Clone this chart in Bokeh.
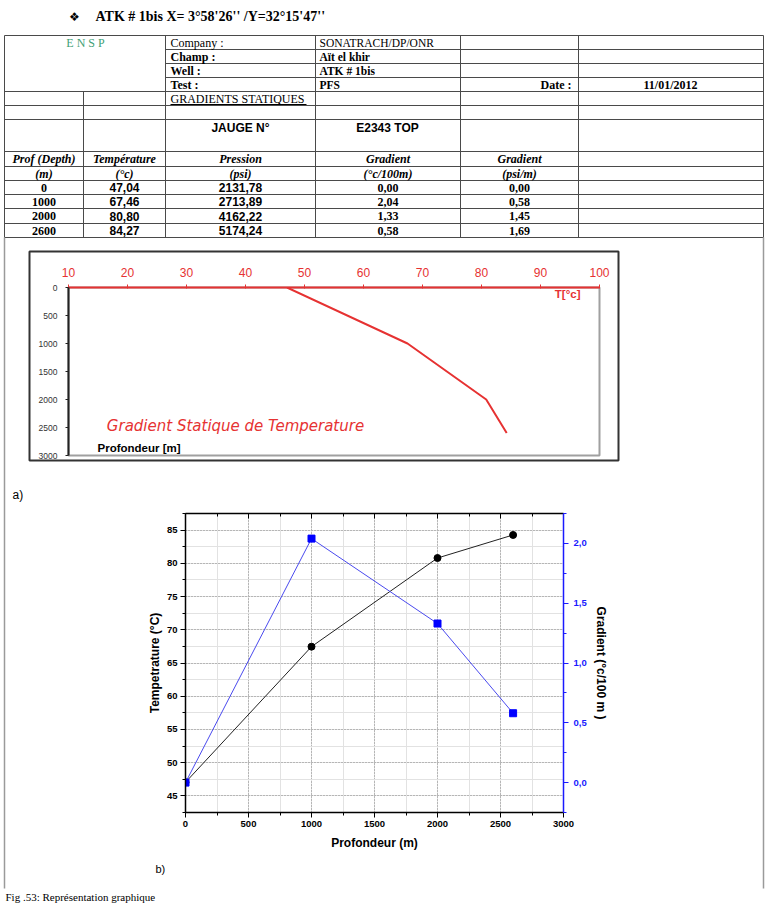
from bokeh.plotting import figure
from bokeh.models import (Range1d, LinearAxis, SingleIntervalTicker, FixedTicker,
                          CustomJSTickFormatter, GridBox, Column)
from bokeh.core.properties import value
from bokeh.embed import file_html
from bokeh.resources import INLINE

# ---------------- data ----------------
depth_m = [0, 1000, 2000, 2600]
temperature_c = [47.04, 67.46, 80.80, 84.27]
pression_psi = [2131.78, 2713.89, 4162.22, 5174.24]
gradient_c100m = [0.00, 2.04, 1.33, 0.58]
gradient_psim = [0.00, 0.58, 1.45, 1.69]

temp_ticks_a = [10, 20, 30, 40, 50, 60, 70, 80, 90, 100]
depth_ticks_a = [0, 500, 1000, 1500, 2000, 2500, 3000]

info_labels = ["Company :", "Champ :", "Well :", "Test :"]
info_values = ["SONATRACH/DP/ONR", "Aït el khir", "ATK # 1bis", "PFS"]
col_titles = ["Prof (Depth)", "Température", "Pression", "Gradient", "Gradient"]
col_units = ["(m)", "(°c)", "(psi)", "(°c/100m)", "(psi/m)"]
heading = "ATK # 1bis X= 3°58'26'' /Y=32°15'47''"


def fr(v):
    return f"{v:.2f}".replace(".", ",")


# ---------------- page geometry (reference pixel space, 1:1) ----------------
W, H = 767, 904
XL, XR, YT, YB = 0, 767, 0, 904


def sx(rx):
    return (rx - XL) * W / (XR - XL)


def sy(ry):
    return (ry - YT) * H / (YB - YT)


SERIF = "Liberation Serif"
SANS = "Liberation Sans"

bg = figure(width=W, height=H, x_range=Range1d(XL, XR), y_range=Range1d(YB, YT),
            x_axis_type=None, y_axis_type=None, output_backend="svg",
            toolbar_location=None, min_border=0, outline_line_color=None,
            background_fill_color="white", border_fill_color="white")
bg.xgrid.visible = False
bg.ygrid.visible = False


def T(x, y, s, size=12, font=SERIF, style="normal", color="#000000", align="left"):
    bg.text(x=[x], y=[y], text=[s], text_font=value(font), text_font_size=f"{size}px",
            text_font_style=style, text_color=color, text_align=align,
            text_baseline="middle")


# heading
T(74, 16, "\u2756", size=12, font="DejaVu Sans", align="center")
T(95, 16, heading, size=14, style="bold")

# table grid
LC = "#4a4a4a"
cols = [4, 83, 165, 315, 460, 578, 763]
rows = [35, 49, 63, 77, 91, 105, 119, 151, 166, 180, 194, 208, 223, 237]
hx0, hx1, hy = [], [], []
for r in rows:
    hy.append(r)
    hx0.append(165 if r in (49, 63, 77) else 4)
    hx1.append(763)
bg.segment(x0=hx0, y0=hy, x1=hx1, y1=hy, line_color=LC, line_width=1)
vx, vy0, vy1 = [], [], []
for c in cols:
    vx.append(c)
    vy0.append(91 if c == 83 else 35)
    vy1.append(237)
bg.segment(x0=vx, y0=vy0, x1=vx, y1=vy1, line_color=LC, line_width=1)
# outer page frame continuing below the table
bg.segment(x0=[4, 763], y0=[237, 237], x1=[4, 763], y1=[888, 888],
           line_color="#9a9a9a", line_width=1.5)

# table texts
T(85, 42, "E N S P", color="#3f9f76", align="center")
info_y = [42, 56, 70, 84]
for i, (lab, val) in enumerate(zip(info_labels, info_values)):
    st = "normal" if i == 0 else "bold"
    T(170, info_y[i], lab, style=st)
    T(319, info_y[i], val, style=st, size=11.5)
T(571, 84, "Date :", style="bold", align="right")
T(670, 84, "11/01/2012", style="bold", align="center")
T(170, 98, "GRADIENTS STATIQUES")
bg.segment(x0=[170], y0=[104], x1=[306], y1=[104], line_color="black", line_width=1)
T(240, 127, "JAUGE N°", font=SANS, style="bold", align="center")
T(387, 127, "E2343 TOP", font=SANS, style="bold", align="center")

ccx = [43.5, 124, 240, 387.5, 519]
for cx, t, u in zip(ccx, col_titles, col_units):
    T(cx, 158.5, t, style="bold italic", align="center")
    T(cx, 173, u, style="bold italic", align="center")
row_y = [187, 201, 215.5, 230]
for i in range(len(depth_m)):
    y = row_y[i]
    T(ccx[0], y, str(depth_m[i]), style="bold", align="center")
    T(ccx[1], y, fr(temperature_c[i]), font=SANS, style="bold", align="center")
    T(ccx[2], y, fr(pression_psi[i]), font=SANS, style="bold", align="center")
    T(ccx[3], y, fr(gradient_c100m[i]), style="bold", align="center")
    T(ccx[4], y, fr(gradient_psim[i]), style="bold", align="center")

# chart a box and annotations
RED = "#e63232"
bg.quad(left=[29], right=[618], top=[251], bottom=[460], fill_color=None,
        line_color="#333333", line_width=2)
T(580, 293, "T[°c]", size=11.5, font=SANS, style="bold", color=RED, align="right")
T(235, 425, "Gradient Statique de Temperature", size=15, font="DejaVu Sans",
  style="italic", color=RED, align="center")
T(97, 447, "Profondeur [m]", size=11.5, font=SANS, style="bold")

# captions
T(12, 494, "a)", size=12, font=SANS)
T(155, 868, "b)", size=11, font=SANS)
T(5, 896, "Fig .53: Représentation graphique", size=11)


def place(box, frame):
    x0, y0, x1, y1 = box
    fx0, fy0, fx1, fy1 = frame
    kw = dict(width=round(sx(x1) - sx(x0)), height=round(sy(y1) - sy(y0)),
              min_border_left=round(sx(fx0) - sx(x0)),
              min_border_right=round(sx(x1) - sx(fx1)),
              min_border_top=round(sy(fy0) - sy(y0)),
              min_border_bottom=round(sy(y1) - sy(fy1)))
    margin = (round(sy(y0)), 0, 0, round(sx(x0)))
    return kw, margin


# ---------------- chart a ----------------
kwa, marga = place((30, 252, 617, 459), (68, 287, 599, 455))
ca = figure(**kwa, x_range=Range1d(10, 100), y_range=Range1d(3000, 0),
            x_axis_location="above", output_backend="svg", toolbar_location=None,
            background_fill_color=None, border_fill_color=None,
            outline_line_color="#a0a0a0", outline_line_width=2)
ca.grid.visible = False
ca.xaxis.ticker = FixedTicker(ticks=temp_ticks_a)
ca.xaxis.axis_line_color = RED
ca.xaxis.axis_line_width = 2
ca.xaxis.major_tick_line_color = RED
ca.xaxis.major_tick_out = 3
ca.xaxis.major_tick_in = 1
ca.xaxis.minor_tick_line_color = None
ca.xaxis.major_label_text_color = RED
ca.xaxis.major_label_text_font = SANS
ca.xaxis.major_label_text_font_size = "12px"
ca.xaxis.major_label_standoff = 8
ca.yaxis.ticker = FixedTicker(ticks=depth_ticks_a)
ca.yaxis.axis_line_color = "#222222"
ca.yaxis.axis_line_width = 2
ca.yaxis.major_tick_line_color = "#222222"
ca.yaxis.major_tick_out = 3
ca.yaxis.major_tick_in = 0
ca.yaxis.minor_tick_line_color = None
ca.yaxis.major_label_text_color = "#333333"
ca.yaxis.major_label_text_font = SANS
ca.yaxis.major_label_text_font_size = "8.5px"
ca.yaxis.major_label_standoff = 8
ca.line(temperature_c, depth_m, line_color=RED, line_width=2)

# ---------------- chart b ----------------
BLUE = "#1a1aff"
kwb, margb = place((125, 505, 630, 862), (185, 512.7, 563, 811.7))
cb = figure(**kwb, x_range=Range1d(0, 3000), y_range=Range1d(42.5, 87.5),
            output_backend="svg", toolbar_location=None,
            background_fill_color=None, border_fill_color=None, outline_line_color=None)
cb.extra_y_ranges = {"grad": Range1d(-0.25, 2.25)}

xt = SingleIntervalTicker(interval=500, num_minor_ticks=2)
yt = SingleIntervalTicker(interval=5, num_minor_ticks=2)
cb.xaxis.ticker = xt
cb.yaxis.ticker = yt
cb.xgrid.ticker = xt
cb.ygrid.ticker = yt
for g in (cb.xgrid, cb.ygrid):
    g.grid_line_color = "#8a8a8a"
    g.grid_line_dash = "1 2"
    g.grid_line_width = 1
    g.minor_grid_line_color = "#e2e2e2"
    g.minor_grid_line_width = 1

for ax in (cb.xaxis, cb.yaxis):
    ax.axis_line_color = "black"
    ax.axis_line_width = 1.5
    ax.major_tick_line_color = "black"
    ax.minor_tick_line_color = "black"
    ax.major_tick_out = 5
    ax.major_tick_in = 0
    ax.minor_tick_out = 3
    ax.minor_tick_in = 0
    ax.major_label_text_font = SANS
    ax.major_label_text_font_style = "bold"
    ax.major_label_text_font_size = "9.5px"
    ax.major_label_text_color = "black"
    ax.axis_label_text_font = SANS
    ax.axis_label_text_font_style = "bold"
    ax.axis_label_text_font_size = "12px"
    ax.axis_label_text_color = "black"
cb.xaxis.axis_label = "Profondeur (m)"
cb.xaxis.major_label_standoff = 3
cb.xaxis.axis_label_standoff = 6
cb.yaxis.axis_label = "Tempetrature (°C)"
cb.yaxis.major_label_standoff = 3
cb.yaxis.axis_label_standoff = 2

top_ax = LinearAxis(ticker=xt, formatter=CustomJSTickFormatter(code="return ''"),
                    axis_line_color="black", axis_line_width=1.5,
                    major_tick_in=5, major_tick_out=0, minor_tick_in=3, minor_tick_out=0,
                    major_label_standoff=0)
cb.add_layout(top_ax, "above")

r_ax = LinearAxis(y_range_name="grad",
                  ticker=SingleIntervalTicker(interval=0.5, num_minor_ticks=2),
                  formatter=CustomJSTickFormatter(code="return tick.toFixed(1).replace('.', ',')"),
                  axis_label="Gradient (°c/100 m )",
                  axis_line_color=BLUE, axis_line_width=1.5,
                  major_tick_line_color=BLUE, minor_tick_line_color=BLUE,
                  major_tick_out=5, major_tick_in=0, minor_tick_out=3, minor_tick_in=0,
                  major_label_text_color=BLUE, major_label_text_font=SANS,
                  major_label_text_font_style="bold", major_label_text_font_size="9.5px",
                  major_label_standoff=5,
                  axis_label_text_font=SANS, axis_label_text_font_style="bold",
                  axis_label_text_font_size="12px", axis_label_text_color="black",
                  axis_label_standoff=4)
cb.add_layout(r_ax, "right")

cb.line(depth_m, temperature_c, line_color="#222222", line_width=1)
cb.scatter(depth_m, temperature_c, marker="circle", size=7, fill_color="black",
           line_color="black")
cb.line(depth_m, gradient_c100m, line_color="#4a4aee", line_width=1, y_range_name="grad")
cb.scatter(depth_m, gradient_c100m, marker="square", size=7, fill_color="#0000ff",
           line_color="#0000ff", y_range_name="grad")

# overlay: each figure in its own wrapper so their frames are not aligned to each other
wbg = Column(children=[bg])
wa = Column(children=[ca], margin=marga)
wb = Column(children=[cb], margin=margb)
page = GridBox(children=[(wbg, 0, 0), (wa, 0, 0), (wb, 0, 0)], spacing=0)

open("out.html", "w").write(file_html(page, INLINE))
